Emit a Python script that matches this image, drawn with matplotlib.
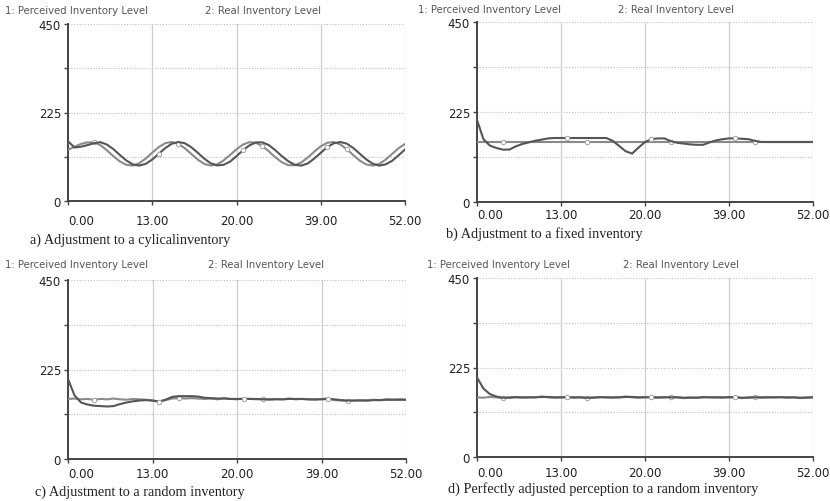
"""Perceived vs real inventory level, four adjustment scenarios."""

import matplotlib.pyplot as plt
import numpy as np

W, H = 830, 502

weeks = np.arange(53)
x_ticks = [0, 13, 26, 39, 52]
x_tick_labels = ["0.00", "13.00", "20.00", "39.00", "52.00"]
y_ticks = [0, 112.5, 225, 337.5, 450]
y_tick_labels = ["0", "", "225", "", "450"]

legend_1 = "1: Perceived Inventory Level"
legend_2 = "2: Real Inventory Level"

# a) cyclical inventory
perceived_a = [152, 136, 138, 142, 147, 149.5, 143.5, 132, 117, 103, 93, 90, 94.5,
               105.5, 120, 134.5, 145.5, 150, 147, 137, 123, 108, 96, 90.5, 92, 100,
               114, 129, 141.5, 149, 149, 142, 129, 114, 101, 92, 90, 95.5, 108, 122.5,
               137, 146.5, 150, 146, 135, 120.5, 106, 95, 90, 93, 102, 116, 131]
real_a = [130, 138, 145, 149, 149, 142, 129, 114, 100.5, 92, 90, 96, 108, 123, 137,
          147, 150, 145.5, 134.5, 120, 105.5, 94.5, 90, 93, 103, 117, 131.5, 143.5,
          149.5, 148, 139.5, 126, 111, 98.5, 91, 91, 98, 110.5, 125.5, 139, 148, 150,
          144, 132, 117, 103, 93, 90, 94, 105, 119.5, 134, 145]

# b) fixed inventory
perceived_b = [205, 157, 141, 135, 131, 131, 139, 145, 149, 153, 156, 159, 160, 160,
               160, 160, 160, 160, 160, 160, 160, 153, 140, 127, 121, 136, 150, 157,
               159, 159, 152, 148, 146, 144, 143, 143, 149, 154, 157, 159, 159, 158,
               157, 153, 150, 150, 150, 150, 150, 150, 150, 150, 150]
real_b = [150] * 53

# c) random inventory
perceived_c = [201, 160, 142, 137, 134, 133, 132, 133, 138, 142, 145, 147, 148, 147,
               144, 149, 156, 158, 158, 158, 157, 154, 153, 152, 152, 151, 151, 151,
               151, 151, 150, 150, 150, 150, 151, 151, 151, 150, 150, 150, 151, 150,
               148, 147, 147, 147, 147, 148, 148, 149, 149, 149, 149]
real_c = [151, 152, 150, 151, 149, 151, 150, 152, 150, 149, 151, 150, 149, 147, 145,
          148, 152, 153, 152, 153, 152, 151, 152, 150, 153, 151, 150, 152, 151, 150,
          151, 149, 151, 150, 152, 150, 151, 150, 149, 151, 152, 148, 147, 146, 147,
          148, 147, 149, 148, 150, 149, 150, 149]

# d) perfectly adjusted perception
perceived_d = [200, 172, 158, 152, 149, 149, 150, 150, 150, 150, 151, 151, 150, 150,
               150, 150, 150, 149, 149, 150, 150, 150, 150, 151, 151, 150, 150, 150,
               150, 150, 150, 150, 149, 149, 149, 150, 150, 150, 150, 150, 150, 149,
               149, 150, 150, 150, 150, 150, 150, 150, 149, 149, 150]
real_d = [150, 149, 151, 150, 148, 150, 151, 149, 150, 150, 152, 150, 149, 150, 151,
          149, 150, 148, 150, 151, 150, 149, 150, 152, 150, 149, 151, 150, 149, 150,
          151, 150, 148, 150, 149, 151, 150, 150, 149, 151, 150, 148, 150, 151, 149,
          150, 150, 151, 149, 150, 148, 150, 150]


def px_rect(left, top, right, bottom):
    return [left / W, 1 - bottom / H, (right - left) / W, (bottom - top) / H]


def fig_text(fig, x, y, s, **kw):
    fig.text(x / W, 1 - y / H, s, va="center", **kw)


def draw_panel(fig, box, perceived, real, caption, legend_xy, caption_xy, xpad):
    ax = fig.add_axes(px_rect(*box))
    ax.set_xlim(0, 52)
    ax.set_ylim(0, 450)

    for y in y_ticks[1:]:
        ax.axhline(y, color="#bdbdbd", lw=0.8, ls=(0, (1, 1.5)), zorder=1)
    for x in x_ticks[1:]:
        ax.axvline(x, color="#cfcfcf", lw=0.9, zorder=1)

    ax.plot(weeks, real, color="#8a8a8a", lw=1.5, zorder=3,
            marker="o", ms=3.2, mfc="white", mec="#a0a0a0", mew=0.7,
            markevery=slice(4, None, 13))
    ax.plot(weeks, perceived, color="#555555", lw=1.5, zorder=4,
            marker="o", ms=3.2, mfc="white", mec="#a0a0a0", mew=0.7,
            markevery=slice(14, None, 13))

    for side in ("top", "right"):
        ax.spines[side].set_visible(False)
    for side in ("left", "bottom"):
        ax.spines[side].set_color("#444444")
        ax.spines[side].set_linewidth(1.4)

    ax.set_xticks(x_ticks, x_tick_labels)
    ax.set_yticks(y_ticks, y_tick_labels)
    ax.tick_params(axis="both", length=3, width=1, color="#444444",
                   labelsize=8.5, labelcolor="#222222")
    ax.tick_params(axis="y", pad=2)
    ax.tick_params(axis="x", pad=xpad)
    ax.get_xticklabels()[0].set_ha("left")

    lx1, lx2, ly = legend_xy
    fig_text(fig, lx1, ly, legend_1, fontsize=7.3, color="#555555")
    fig_text(fig, lx2, ly, legend_2, fontsize=7.3, color="#555555")
    fig_text(fig, caption_xy[0], caption_xy[1], caption, fontsize=10.3,
             family="Liberation Serif", color="#222222")
    return ax


fig = plt.figure(figsize=(W / 100, H / 100), dpi=100)

draw_panel(fig, (68, 25, 405, 202), perceived_a, real_a,
           "a) Adjustment to a cylicalinventory", (5, 205, 11), (30, 240), 6.5)
draw_panel(fig, (477, 23, 813, 203), perceived_b, real_b,
           "b) Adjustment to a fixed inventory", (418, 618, 10), (446, 234), 1.5)
draw_panel(fig, (68, 281, 406, 460), perceived_c, real_c,
           "c) Adjustment to a random inventory", (5, 208, 265), (35, 492), 2.5)
draw_panel(fig, (477, 279, 813, 458), perceived_d, real_d,
           "d) Perfectly adjusted perception to a random inventory",
           (427, 623, 265), (448, 489), 3.5)

fig.savefig("out.png", dpi=100)
